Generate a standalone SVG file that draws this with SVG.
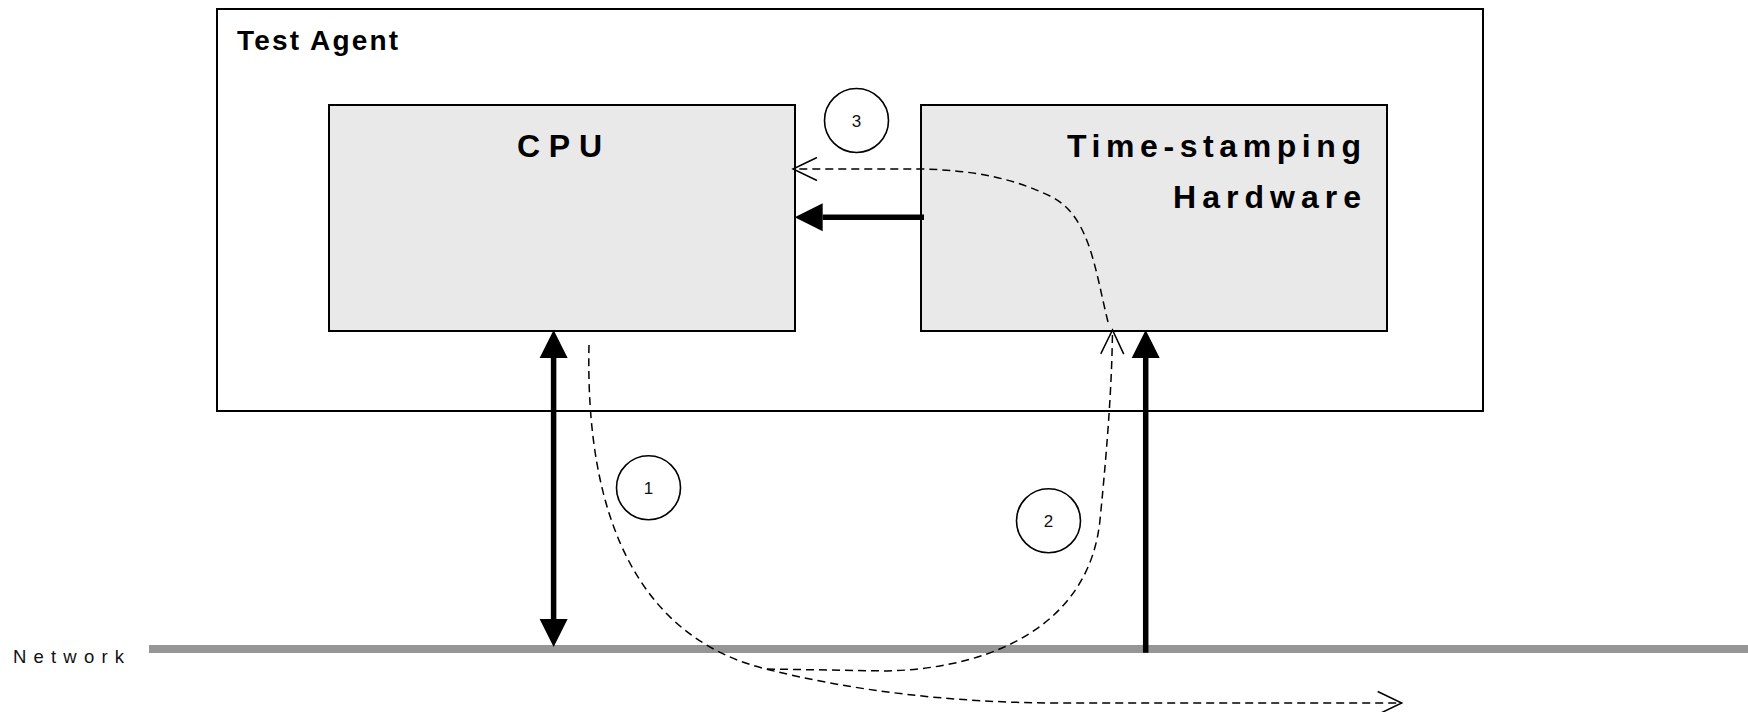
<svg xmlns="http://www.w3.org/2000/svg" width="1748" height="712" viewBox="0 0 1748 712">
<style>
.box{stroke:#000;stroke-width:2}
.inner{fill:#e9e9e9}
.title{font-family:"Liberation Sans",Arial,sans-serif;font-weight:bold;fill:#000}
.lbl{font-family:"Liberation Sans",Arial,sans-serif;fill:#111}
.num{font-family:"Liberation Sans",Arial,sans-serif;font-size:17px;fill:#111;text-anchor:middle}
.step{fill:#fff;stroke:#000;stroke-width:1.6}
.thick{fill:none;stroke:#000;stroke-width:5.5}
.dash{fill:none;stroke:#000;stroke-width:1.5;stroke-dasharray:8 5}
</style>
<defs>
<marker id="fa" markerUnits="userSpaceOnUse" markerWidth="30" markerHeight="30" refX="0" refY="14" orient="auto-start-reverse" overflow="visible">
<path d="M0,0 L28,14 L0,28 Z" fill="#000"/>
</marker>
<marker id="oa" markerUnits="userSpaceOnUse" markerWidth="26" markerHeight="26" refX="24" refY="11.5" orient="auto" overflow="visible">
<path d="M0,0 L24,11.5 L0,23" fill="none" stroke="#000" stroke-width="1.5" stroke-dasharray="none"/>
</marker>
</defs>
<rect width="1748" height="712" fill="#fff"/>
<g id="test-agent">
<rect class="box" x="217" y="9" width="1266" height="402" fill="#fff"/>
<text class="title" x="237" y="50" font-size="28" textLength="161" lengthAdjust="spacing">Test Agent</text>
</g>
<g id="cpu">
<rect class="box inner" x="329" y="105" width="466" height="226"/>
<text class="title" x="517" y="157" font-size="32" textLength="85" lengthAdjust="spacing">CPU</text>
</g>
<g id="timestamping-hardware">
<rect class="box inner" x="921" y="105" width="466" height="226"/>
<text class="title" x="1067" y="157" font-size="32" textLength="294" lengthAdjust="spacing">Time-stamping</text>
<text class="title" x="1173" y="208" font-size="32" textLength="188" lengthAdjust="spacing">Hardware</text>
</g>
<g id="network">
<line x1="149" y1="649" x2="1748" y2="649" stroke="#969696" stroke-width="8"/>
<text class="lbl" x="13" y="663" font-size="18.5" textLength="111" lengthAdjust="spacing">Network</text>
</g>
<g id="step-1">
<circle class="step" cx="648.5" cy="487.7" r="32"/>
<text class="num" x="648.5" y="494">1</text>
</g>
<g id="step-2">
<circle class="step" cx="1048.5" cy="520.8" r="32"/>
<text class="num" x="1048.5" y="527">2</text>
</g>
<g id="step-3">
<circle class="step" cx="856.5" cy="120.5" r="32"/>
<text class="num" x="856.5" y="127">3</text>
</g>
<g id="connectors">
<path class="thick" d="M553.6,358 L553.6,619" marker-start="url(#fa)" marker-end="url(#fa)"/>
<path class="thick" d="M924,217.3 L822.7,217.3" marker-end="url(#fa)"/>
<path class="thick" d="M1145.7,652.7 L1145.7,358" marker-end="url(#fa)"/>
<path class="dash" d="M589,345 C585,520 640,640 770,670 C850,690 950,703 1060,703 L1401.7,703" marker-end="url(#oa)"/>
<path class="dash" d="M767,669 L887,671 C1000,668 1090,620 1100,520 C1108,440 1112,380 1112.5,330" marker-end="url(#oa)"/>
<path class="dash" d="M1108,322 C1095,270 1090,215 1050,196 C1010,177 970,170 920,169 L793,169" marker-end="url(#oa)"/>
</g>
</svg>
